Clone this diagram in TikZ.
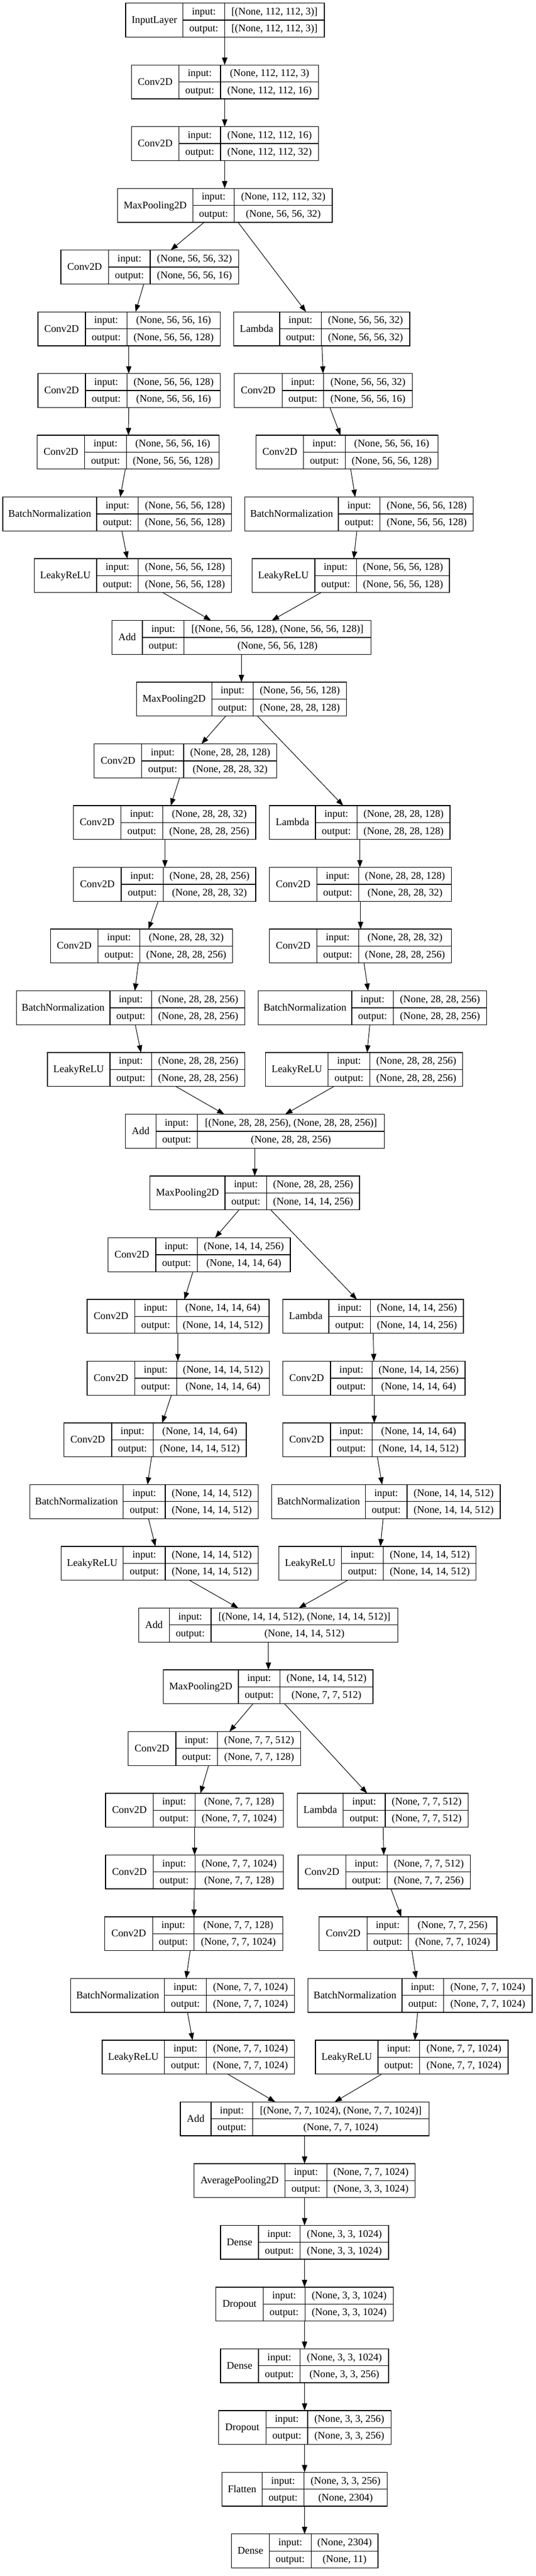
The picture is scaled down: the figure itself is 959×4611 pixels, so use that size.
\documentclass[tikz,border=0pt]{standalone}
\usepackage{fontspec}
\setmainfont{Liberation Serif}
\usetikzlibrary{arrows.meta}
\tikzset{
  recbox/.style={draw=black, line width=1.3pt, fill=white, inner sep=0pt, outer sep=0pt, minimum height=60.7pt, rectangle},
  recline/.style={draw=black, line width=1.3pt},
  txt/.style={inner sep=0pt, text height=14pt, text depth=3pt, font=\fontsize{18.3pt}{22pt}\selectfont},
  arr/.style={draw=black, line width=1pt, -{Triangle[length=13pt,width=9.5pt]}}
}
\newcommand\layer[9]{%
  \pgfmathsetmacro\yT{5.7+(#2-1)*110.49}%
  \pgfmathsetmacro\yB{\yT+60.7}%
  \pgfmathsetmacro\yM{\yT+30.35}%
  \pgfmathsetmacro\rW{#6-#3}%
  \node[recbox, minimum width=\rW pt, anchor=north west] (#1) at (#3,\yT) {};
  \draw[recline] (#4,\yT) -- (#4,\yB) (#5,\yT) -- (#5,\yB) (#4,\yM) -- (#6,\yM);
  \node[txt] at ({(#3+#4)/2},\yM) {#7};
  \node[txt] at ({(#4+#5)/2},{\yT+15.2}) {input:};
  \node[txt] at ({(#4+#5)/2},{\yT+45.5}) {output:};
  \node[txt] at ({(#5+#6)/2},{\yT+15.2}) {#8};
  \node[txt] at ({(#5+#6)/2},{\yT+45.5}) {#9};
}
\newcommand\edge[4]{\draw[arr] (#1.south -| #2,0) -- (#3.north -| #4,0);}
\begin{document}
\begin{tikzpicture}[x=1pt,y=-1pt]
\path[fill=white] (0,0) rectangle (959,4611);
\useasboundingbox (0,0) rectangle (959,4611);
\layer{n1}{1}{225.1}{327.8}{402.4}{581.0}{InputLayer}{[(None, 112, 112, 3)]}{[(None, 112, 112, 3)]}
\layer{n2}{2}{235.5}{320.5}{395.0}{570.6}{Conv2D}{(None, 112, 112, 3)}{(None, 112, 112, 16)}
\layer{n3}{3}{235.5}{320.5}{395.0}{570.6}{Conv2D}{(None, 112, 112, 16)}{(None, 112, 112, 32)}
\layer{n4}{4}{210.4}{345.6}{419.6}{595.1}{MaxPooling2D}{(None, 112, 112, 32)}{(None, 56, 56, 32)}
\layer{n5L}{5}{108.9}{194.5}{269.1}{427.5}{Conv2D}{(None, 56, 56, 32)}{(None, 56, 56, 16)}
\layer{n6L}{6}{67.9}{152.9}{227.5}{394.5}{Conv2D}{(None, 56, 56, 16)}{(None, 56, 56, 128)}
\layer{n6R}{6}{418.3}{500.9}{575.5}{733.9}{Lambda}{(None, 56, 56, 32)}{(None, 56, 56, 32)}
\layer{n7L}{7}{67.9}{152.9}{227.5}{394.5}{Conv2D}{(None, 56, 56, 128)}{(None, 56, 56, 16)}
\layer{n7R}{7}{419.6}{505.2}{579.8}{738.2}{Conv2D}{(None, 56, 56, 32)}{(None, 56, 56, 16)}
\layer{n8L}{8}{66.7}{151.7}{226.3}{392.6}{Conv2D}{(None, 56, 56, 16)}{(None, 56, 56, 128)}
\layer{n8R}{8}{458.7}{543.7}{618.3}{784.7}{Conv2D}{(None, 56, 56, 16)}{(None, 56, 56, 128)}
\layer{n9L}{9}{4.9}{173.1}{247.7}{414.7}{BatchNormalization}{(None, 56, 56, 128)}{(None, 56, 56, 128)}
\layer{n9R}{9}{438.5}{606.1}{680.7}{847.7}{BatchNormalization}{(None, 56, 56, 128)}{(None, 56, 56, 128)}
\layer{n10L}{10}{61.2}{173.1}{247.7}{414.7}{LeakyReLU}{(None, 56, 56, 128)}{(None, 56, 56, 128)}
\layer{n10R}{10}{451.4}{563.9}{638.5}{804.9}{LeakyReLU}{(None, 56, 56, 128)}{(None, 56, 56, 128)}
\layer{n11}{11}{200.6}{255.0}{329.7}{664.2}{Add}{[(None, 56, 56, 128), (None, 56, 56, 128)]}{(None, 56, 56, 128)}
\layer{n12}{12}{244.6}{379.2}{453.8}{620.2}{MaxPooling2D}{(None, 56, 56, 128)}{(None, 28, 28, 128)}
\layer{n13L}{13}{168.8}{253.8}{329.0}{495.4}{Conv2D}{(None, 28, 28, 128)}{(None, 28, 28, 32)}
\layer{n14L}{14}{131.5}{216.5}{291.7}{458.1}{Conv2D}{(None, 28, 28, 32)}{(None, 28, 28, 256)}
\layer{n14R}{14}{482.5}{565.1}{639.7}{806.0}{Lambda}{(None, 28, 28, 128)}{(None, 28, 28, 128)}
\layer{n15L}{15}{131.5}{217.1}{292.3}{458.1}{Conv2D}{(None, 28, 28, 256)}{(None, 28, 28, 32)}
\layer{n15R}{15}{482.5}{567.6}{642.2}{808.5}{Conv2D}{(None, 28, 28, 128)}{(None, 28, 28, 32)}
\layer{n16L}{16}{90.5}{175.5}{250.8}{416.5}{Conv2D}{(None, 28, 28, 32)}{(None, 28, 28, 256)}
\layer{n16R}{16}{482.5}{567.6}{642.2}{808.5}{Conv2D}{(None, 28, 28, 32)}{(None, 28, 28, 256)}
\layer{n17L}{17}{29.4}{196.9}{271.6}{438.5}{BatchNormalization}{(None, 28, 28, 256)}{(None, 28, 28, 256)}
\layer{n17R}{17}{462.4}{630.0}{704.6}{871.5}{BatchNormalization}{(None, 28, 28, 256)}{(None, 28, 28, 256)}
\layer{n18L}{18}{85.0}{196.9}{271.6}{438.5}{LeakyReLU}{(None, 28, 28, 256)}{(None, 28, 28, 256)}
\layer{n18R}{18}{475.8}{587.8}{662.4}{828.7}{LeakyReLU}{(None, 28, 28, 256)}{(None, 28, 28, 256)}
\layer{n19}{19}{224.5}{279.5}{353.5}{688.7}{Add}{[(None, 28, 28, 256), (None, 28, 28, 256)]}{(None, 28, 28, 256)}
\layer{n20}{20}{268.5}{403.0}{477.7}{644.0}{MaxPooling2D}{(None, 28, 28, 256)}{(None, 14, 14, 256)}
\layer{n21L}{21}{193.3}{278.9}{353.5}{519.9}{Conv2D}{(None, 14, 14, 256)}{(None, 14, 14, 64)}
\layer{n22L}{22}{156.0}{241.6}{316.2}{481.9}{Conv2D}{(None, 14, 14, 64)}{(None, 14, 14, 512)}
\layer{n22R}{22}{506.4}{589.0}{663.6}{830.0}{Lambda}{(None, 14, 14, 256)}{(None, 14, 14, 256)}
\layer{n23L}{23}{156.0}{241.6}{316.2}{482.5}{Conv2D}{(None, 14, 14, 512)}{(None, 14, 14, 64)}
\layer{n23R}{23}{506.4}{592.0}{666.6}{833.0}{Conv2D}{(None, 14, 14, 256)}{(None, 14, 14, 64)}
\layer{n24L}{24}{114.4}{200.0}{274.6}{441.0}{Conv2D}{(None, 14, 14, 64)}{(None, 14, 14, 512)}
\layer{n24R}{24}{506.4}{592.0}{666.6}{833.0}{Conv2D}{(None, 14, 14, 64)}{(None, 14, 14, 512)}
\layer{n25L}{25}{53.2}{220.8}{296.0}{462.4}{BatchNormalization}{(None, 14, 14, 512)}{(None, 14, 14, 512)}
\layer{n25R}{25}{486.8}{654.4}{729.0}{896.0}{BatchNormalization}{(None, 14, 14, 512)}{(None, 14, 14, 512)}
\layer{n26L}{26}{109.5}{220.8}{296.0}{462.4}{LeakyReLU}{(None, 14, 14, 512)}{(None, 14, 14, 512)}
\layer{n26R}{26}{499.7}{611.6}{686.8}{852.6}{LeakyReLU}{(None, 14, 14, 512)}{(None, 14, 14, 512)}
\layer{n27}{27}{248.3}{303.4}{378.0}{712.5}{Add}{[(None, 14, 14, 512), (None, 14, 14, 512)]}{(None, 14, 14, 512)}
\layer{n28}{28}{292.3}{426.9}{501.5}{667.9}{MaxPooling2D}{(None, 14, 14, 512)}{(None, 7, 7, 512)}
\layer{n29L}{29}{229.4}{315.0}{389.6}{538.8}{Conv2D}{(None, 7, 7, 512)}{(None, 7, 7, 128)}
\layer{n30L}{30}{189.0}{274.6}{349.2}{507.6}{Conv2D}{(None, 7, 7, 128)}{(None, 7, 7, 1024)}
\layer{n30R}{30}{532.7}{614.7}{689.9}{838.5}{Lambda}{(None, 7, 7, 512)}{(None, 7, 7, 512)}
\layer{n31L}{31}{189.0}{274.6}{349.2}{507.6}{Conv2D}{(None, 7, 7, 1024)}{(None, 7, 7, 128)}
\layer{n31R}{31}{533.9}{619.5}{693.5}{842.8}{Conv2D}{(None, 7, 7, 512)}{(None, 7, 7, 256)}
\layer{n32L}{32}{187.8}{273.4}{347.4}{506.4}{Conv2D}{(None, 7, 7, 128)}{(None, 7, 7, 1024)}
\layer{n32R}{32}{571.8}{657.5}{731.5}{889.9}{Conv2D}{(None, 7, 7, 256)}{(None, 7, 7, 1024)}
\layer{n33L}{33}{126.6}{294.8}{369.4}{527.8}{BatchNormalization}{(None, 7, 7, 1024)}{(None, 7, 7, 1024)}
\layer{n33R}{33}{551.7}{719.9}{794.5}{952.9}{BatchNormalization}{(None, 7, 7, 1024)}{(None, 7, 7, 1024)}
\layer{n34L}{34}{182.9}{294.8}{369.4}{527.8}{LeakyReLU}{(None, 7, 7, 1024)}{(None, 7, 7, 1024)}
\layer{n34R}{34}{565.1}{677.0}{751.7}{910.1}{LeakyReLU}{(None, 7, 7, 1024)}{(None, 7, 7, 1024)}
\layer{n35}{35}{322.9}{378.0}{452.6}{768.2}{Add}{[(None, 7, 7, 1024), (None, 7, 7, 1024)]}{(None, 7, 7, 1024)}
\layer{n36}{36}{347.4}{510.7}{585.3}{743.7}{AveragePooling2D}{(None, 7, 7, 1024)}{(None, 3, 3, 1024)}
\layer{n37}{37}{395.1}{463.0}{537.6}{696.0}{Dense}{(None, 3, 3, 1024)}{(None, 3, 3, 1024)}
\layer{n38}{38}{386.5}{471.5}{546.2}{704.5}{Dropout}{(None, 3, 3, 1024)}{(None, 3, 3, 1024)}
\layer{n39}{39}{395.1}{463.0}{537.6}{696.0}{Dense}{(None, 3, 3, 1024)}{(None, 3, 3, 256)}
\layer{n40}{40}{391.4}{476.4}{551.0}{700.3}{Dropout}{(None, 3, 3, 256)}{(None, 3, 3, 256)}
\layer{n41}{41}{397.5}{469.7}{544.3}{693.5}{Flatten}{(None, 3, 3, 256)}{(None, 2304)}
\layer{n42}{42}{414.7}{482.5}{557.2}{677.0}{Dense}{(None, 2304)}{(None, 11)}
% connectors
\edge{n1}{402.4}{n2}{402.4}
\edge{n2}{402.4}{n3}{402.4}
\edge{n3}{402.4}{n4}{402.4}
\edge{n4}{365.7}{n5L}{305.8}
\edge{n4}{426.3}{n6R}{548.0}
\edge{n5L}{257.5}{n6L}{242.8}
\edge{n6L}{230.6}{n7L}{230.6}
\edge{n6R}{576.7}{n7R}{578.6}
\edge{n7L}{230.6}{n8L}{230.0}
\edge{n7R}{590.8}{n8R}{609.8}
\edge{n8L}{224.5}{n9L}{215.3}
\edge{n8R}{628.1}{n9R}{636.1}
\edge{n9L}{218.3}{n10L}{228.1}
\edge{n9R}{639.1}{n10R}{633.6}
\edge{n10L}{291.7}{n11}{378.0}
\edge{n10R}{574.9}{n11}{486.8}
\edge{n11}{432.4}{n12}{432.4}
\edge{n12}{404.3}{n13L}{360.8}
\edge{n12}{461.1}{n14R}{614.7}
\edge{n13L}{321.7}{n14L}{305.8}
\edge{n14L}{295.4}{n15L}{295.4}
\edge{n14R}{644.6}{n15R}{644.6}
\edge{n15L}{283.2}{n16L}{266.0}
\edge{n15R}{645.8}{n16R}{645.8}
\edge{n16L}{247.7}{n17L}{241.6}
\edge{n16R}{652.0}{n17R}{659.3}
\edge{n17L}{242.2}{n18L}{252.6}
\edge{n17R}{662.4}{n18R}{657.5}
\edge{n18L}{315.0}{n19}{401.8}
\edge{n18R}{598.1}{n19}{510.7}
\edge{n19}{456.3}{n20}{456.3}
\edge{n20}{428.1}{n21L}{385.3}
\edge{n20}{485.0}{n22R}{639.1}
\edge{n21L}{345.6}{n22L}{330.3}
\edge{n22L}{318.6}{n23L}{318.6}
\edge{n22R}{668.5}{n23R}{669.5}
\edge{n23L}{307.0}{n24L}{290.5}
\edge{n23R}{670.3}{n24R}{670.3}
\edge{n24L}{271.5}{n25L}{264.2}
\edge{n24R}{675.8}{n25R}{684.4}
\edge{n25L}{266.0}{n26L}{278.3}
\edge{n25R}{686.2}{n26R}{681.3}
\edge{n26L}{339.4}{n27}{426.9}
\edge{n26R}{622.6}{n27}{535.2}
\edge{n27}{480.7}{n28}{480.7}
\edge{n28}{453.2}{n29L}{411.0}
\edge{n28}{509.5}{n30R}{657.5}
\edge{n29L}{373.7}{n30L}{359.0}
\edge{n30L}{348.6}{n31L}{348.6}
\edge{n30R}{686.2}{n31R}{687.4}
\edge{n31L}{348.0}{n32L}{347.4}
\edge{n31R}{700.3}{n32R}{718.6}
\edge{n32L}{340.7}{n33L}{333.3}
\edge{n32R}{737.6}{n33R}{745.5}
\edge{n33L}{335.8}{n34L}{344.9}
\edge{n33R}{748.0}{n34R}{743.1}
\edge{n34L}{407.9}{n35}{493.0}
\edge{n34R}{683.8}{n35}{599.4}
\edge{n35}{545.5}{n36}{545.5}
\edge{n36}{545.5}{n37}{545.5}
\edge{n37}{545.5}{n38}{545.5}
\edge{n38}{545.5}{n39}{545.5}
\edge{n39}{545.5}{n40}{545.5}
\edge{n40}{545.5}{n41}{545.5}
\edge{n41}{545.5}{n42}{545.5}
\end{tikzpicture}
\end{document}
